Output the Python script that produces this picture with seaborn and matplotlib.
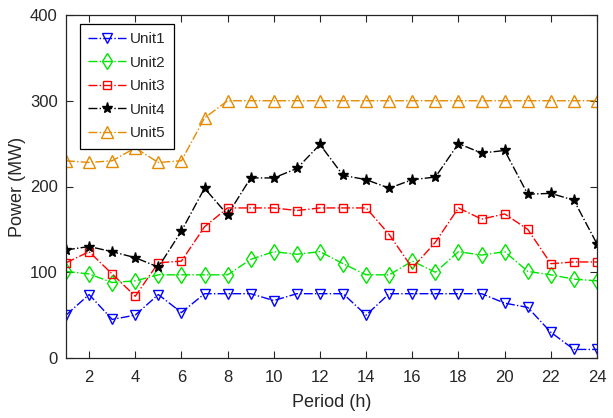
import matplotlib
matplotlib.use("Agg")
import matplotlib.pyplot as plt
import seaborn as sns
import pandas as pd

hours = list(range(1, 25))
unit1 = [50, 74, 45, 50, 74, 53, 75, 75, 75, 67, 75, 75, 75, 50, 75, 75, 75, 75, 75, 64, 59, 30, 10, 10]
unit2 = [101, 98, 88, 90, 97, 97, 97, 97, 115, 124, 121, 124, 110, 97, 97, 113, 100, 124, 120, 124, 101, 97, 92, 90]
unit3 = [111, 124, 98, 72, 111, 113, 153, 175, 175, 175, 172, 175, 175, 175, 144, 105, 135, 175, 162, 168, 150, 110, 112, 112]
unit4 = [126, 130, 124, 117, 106, 148, 198, 167, 210, 210, 221, 249, 213, 208, 198, 208, 211, 250, 239, 242, 191, 192, 184, 133]
unit5 = [230, 228, 230, 245, 228, 230, 280, 300, 300, 300, 300, 300, 300, 300, 300, 300, 300, 300, 300, 300, 300, 300, 300, 300]
names = ["Unit1", "Unit2", "Unit3", "Unit4", "Unit5"]
xticks = list(range(2, 25, 2))
yticks = [0, 100, 200, 300, 400]

sns.set_theme(style="white")
plt.rcParams['font.family'] = ['Liberation Sans', 'DejaVu Sans']

fig = plt.figure(figsize=(6.13, 4.18), dpi=100)
ax = fig.add_axes([66/613, 1 - 358/418, (597-66)/613, (358-15)/418])

series = [unit1, unit2, unit3, unit4, unit5]
styles = [
    dict(color="#0000FF", marker="v", mfc="none", ms=7),
    dict(color="#00E600", marker="d", mfc="none", ms=8),
    dict(color="#FF0000", marker="s", mfc="none", ms=6),
    dict(color="#000000", marker="*", mfc="#000000", ms=8),
    dict(color="#E68A00", marker="^", mfc="none", ms=8),
]
for name, vals, st in zip(names, series, styles):
    df = pd.DataFrame({"Period": hours, "Power": vals})
    sns.lineplot(data=df, x="Period", y="Power", ax=ax, label=name,
                 color=st["color"], marker=st["marker"], markerfacecolor=st["mfc"],
                 markeredgecolor=st["color"], markersize=st["ms"], markeredgewidth=1.0,
                 linestyle="-.", linewidth=1.0)

ax.set_xlim(1, 24)
ax.set_ylim(0, 400)
ax.set_xticks(xticks)
ax.set_yticks(yticks)
ax.tick_params(direction="in", length=5, width=0.8, top=True, right=True,
               bottom=True, left=True, labelsize=12, colors="#262626")
ax.tick_params(axis="x", pad=9)
ax.tick_params(axis="y", pad=6)
for sp in ax.spines.values():
    sp.set_color("#262626")
    sp.set_linewidth(0.9)
ax.set_xlabel("Period (h)", fontsize=13, color="#262626")
ax.set_ylabel("Power (MW)", fontsize=13, color="#262626")
ax.xaxis.set_label_coords(0.5, -0.105)
ax.yaxis.set_label_coords(-0.075, 0.5)

leg = ax.legend(loc="upper left", bbox_to_anchor=(0.026, 0.974), borderaxespad=0,
                fontsize=11, frameon=True, fancybox=False, edgecolor="black",
                handlelength=2.5, borderpad=0.55, labelspacing=0.62, handletextpad=0.25)
leg.get_frame().set_linewidth(0.9)
leg.get_frame().set_alpha(1)
leg.set_zorder(10)

fig.savefig("out.png", dpi=100)
